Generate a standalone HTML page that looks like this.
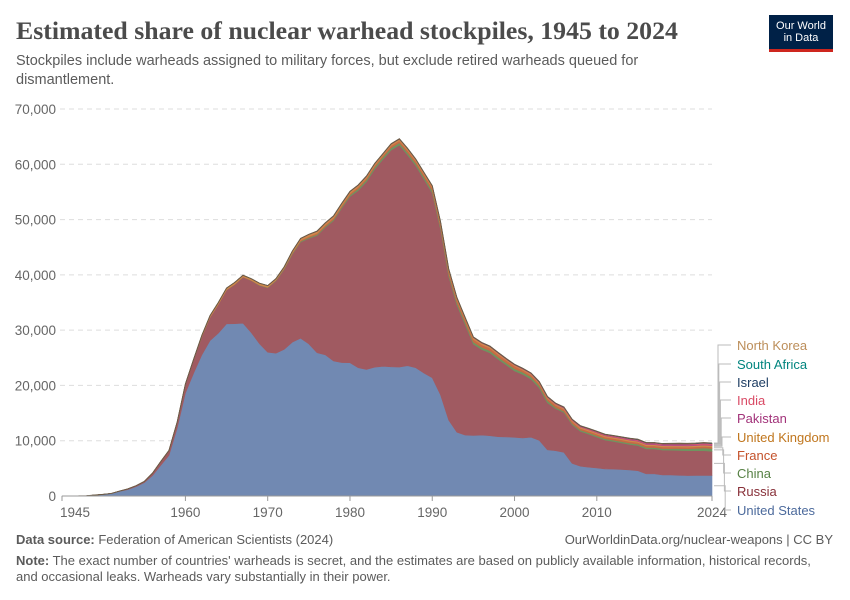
<!DOCTYPE html>
<html><head><meta charset="utf-8"><style>
body{margin:0;background:#fff;font-family:"Liberation Sans",sans-serif;}
#w{position:relative;width:850px;height:600px;overflow:hidden;}
.t{position:absolute;white-space:nowrap;}
</style></head><body>
<div id="w">
<div class="t" style="left:16px;top:16px;font-family:'Liberation Serif',serif;font-size:25.8px;font-weight:bold;color:#4b4b4b;">Estimated share of nuclear warhead stockpiles, 1945 to 2024</div>
<div class="t" style="left:16px;top:52px;font-size:14.5px;color:#5b5b5b;line-height:19px;white-space:normal;width:680px;">Stockpiles include warheads assigned to military forces, but exclude retired warheads queued for dismantlement.</div>
<div style="position:absolute;left:769px;top:15px;width:64px;height:37px;background:#002147;border-bottom:3px solid #ce261e;color:#fff;font-size:11px;line-height:12px;text-align:center;padding-top:5px;box-sizing:border-box;">Our World<br>in Data</div>
<svg id="c" width="850" height="600" style="position:absolute;left:0;top:0"></svg>
<div class="t" style="left:16px;top:532px;font-size:13px;color:#5b5b5b;"><b>Data source:</b> Federation of American Scientists (2024)</div>
<div class="t" style="right:17px;top:532px;font-size:13px;color:#5b5b5b;">OurWorldinData.org/nuclear-weapons | CC BY</div>
<div class="t" style="left:16px;top:553px;font-size:13px;color:#5b5b5b;line-height:16px;white-space:normal;width:810px;"><b>Note:</b> The exact number of countries' warheads is secret, and the estimates are based on publicly available information, historical records, and occasional leaks. Warheads vary substantially in their power.</div>
</div>
<script>
const years=[];for(let y=1945;y<=2024;y++)years.push(y);
const countries=["United States","Russia","China","France","United Kingdom","Pakistan","India","Israel","South Africa","North Korea"];
const usValues=[2,9,13,50,170,299,438,841,1169,1703,2422,3692,5543,7345,12298,18638,22229,25540,28133,29463,31139,31175,31255,29561,27552,26008,25830,26516,27835,28537,27519,25914,25542,24418,24138,24104,23208,22886,23305,23459,23368,23317,23575,23205,22217,21392,18306,13731,11536,11012,10953,11011,10903,10732,10685,10615,10491,10640,10071,8360,8200,7900,5900,5400,5200,5066,4900,4870,4800,4717,4571,4018,4000,3800,3800,3750,3700,3708,3708,3708];
const ruValues=[0,0,0,0,1,5,25,50,120,150,200,426,660,869,1060,1605,2471,3322,4238,5221,6129,7089,8339,9399,10538,11643,13092,14478,15915,17385,19055,21205,23044,25393,27935,30062,32049,33952,35804,37431,39197,40159,38107,36538,35078,33417,30000,26000,23000,20000,16500,15500,15000,14000,13000,12000,11500,10500,9500,8500,7600,7200,7000,6300,6000,5600,5215,5000,4800,4600,4550,4500,4500,4500,4490,4490,4495,4477,4477,4380];
const cnValues=[0,0,0,0,0,0,0,0,0,0,0,0,0,0,0,0,0,0,0,1,5,20,25,35,50,75,100,130,150,170,185,190,200,220,235,280,330,360,380,414,426,423,415,411,430,434,436,435,435,435,400,400,400,400,400,400,400,400,400,400,235,235,235,240,240,240,240,240,250,260,260,260,270,280,290,350,350,410,500,500];
const frValues=[0,0,0,0,0,0,0,0,0,0,0,0,0,0,0,0,0,0,0,4,32,36,36,36,36,36,45,70,116,145,188,212,228,235,235,250,274,274,279,280,360,355,420,410,410,505,540,540,525,510,500,450,450,450,450,470,350,350,350,350,350,350,300,300,300,300,300,300,300,300,300,300,300,300,290,290,290,290,290,290];
const ukValues=[0,0,0,0,0,0,0,0,1,5,10,15,20,22,25,30,50,205,280,310,310,320,270,270,308,280,220,220,275,325,350,350,350,350,350,350,350,335,320,270,300,300,300,300,300,300,300,300,300,250,300,300,260,260,185,185,200,200,200,200,200,200,225,225,225,225,225,225,225,225,215,215,215,215,215,225,225,225,225,225];
const pkValues=[0,0,0,0,0,0,0,0,0,0,0,0,0,0,0,0,0,0,0,0,0,0,0,0,0,0,0,0,0,0,0,0,0,0,0,0,0,0,0,0,0,0,0,0,0,0,0,0,0,0,0,0,0,5,10,15,20,25,30,35,40,50,60,70,80,90,100,110,120,130,140,150,150,160,160,165,165,165,170,170];
const inValues=[0,0,0,0,0,0,0,0,0,0,0,0,0,0,0,0,0,0,0,0,0,0,0,0,0,0,0,0,0,1,1,1,1,1,1,1,1,1,1,1,1,1,1,5,8,10,12,15,18,20,25,30,35,40,45,50,55,60,65,70,75,80,85,90,95,100,100,110,120,120,130,130,130,130,150,156,156,164,172,172];
const ilValues=[0,0,0,0,0,0,0,0,0,0,0,0,0,0,0,0,0,0,0,0,0,0,2,6,10,15,20,23,25,27,30,35,40,42,44,46,48,50,52,54,56,58,60,62,64,66,68,70,72,74,76,78,80,80,80,80,80,80,80,80,80,80,80,80,80,80,80,80,80,80,80,80,80,80,90,90,90,90,90,90];
const zaValues=[0,0,0,0,0,0,0,0,0,0,0,0,0,0,0,0,0,0,0,0,0,0,0,0,0,0,0,0,0,0,0,0,0,0,1,1,1,1,2,3,4,4,5,6,6,6,0,0,0,0,0,0,0,0,0,0,0,0,0,0,0,0,0,0,0,0,0,0,0,0,0,0,0,0,0,0,0,0,0,0];
const kpValues=[0,0,0,0,0,0,0,0,0,0,0,0,0,0,0,0,0,0,0,0,0,0,0,0,0,0,0,0,0,0,0,0,0,0,0,0,0,0,0,0,0,0,0,0,0,0,0,0,0,0,0,0,0,0,0,0,0,0,0,0,0,2,2,4,6,8,10,10,10,10,10,10,15,20,30,30,40,40,30,50];
const yTicks=[0,10000,20000,30000,40000,50000,60000,70000];
const xTicks=[1945,1960,1970,1980,1990,2000,2010,2024];
const series=[usValues,ruValues,cnValues,frValues,ukValues,pkValues,inValues,ilValues,zaValues,kpValues];
const fills=["#7189b2","#a05a61","#6f9460","#c76a44","#d0884a","#b14e86","#e0566b","#3c4e70","#2a948e","#c39a6a"];
const txtCol=["#4c6a9c","#883039","#578145","#c4522b","#c0761e","#a2337a","#d94a65","#1d3d63","#00847e","#bc8e5a"];
const X0=62,X1=712,Y0=496,Y1=109;
const xs=y=>X0+(y-1945)/(2024-1945)*(X1-X0);
const ys=v=>Y0-v/70000*(Y0-Y1);
const svg=document.getElementById('c');const NS="http://www.w3.org/2000/svg";
function mk(t,a){const e=document.createElementNS(NS,t);for(const k in a)e.setAttribute(k,a[k]);svg.appendChild(e);return e;}
yTicks.forEach(v=>{
 if(v>0){const g=mk('line',{x1:60,x2:X1,y1:ys(v),y2:ys(v),stroke:'#dddddd','stroke-dasharray':'5,4'});
 
 }
 const t=mk('text',{x:56,y:ys(v)+5,'text-anchor':'end','font-size':13.5,fill:'#666','font-family':'Liberation Sans,sans-serif'});t.textContent=v.toLocaleString('en-US');
 
 
});
let base=years.map(()=>0);
series.forEach((s,i)=>{
 const top=base.map((b,j)=>b+s[j]);
 let d='M'+years.map((y,j)=>xs(y)+','+ys(top[j])).join('L');
 for(let j=years.length-1;j>=0;j--)d+='L'+xs(years[j])+','+ys(base[j]);
 const p=mk('path',{d:d+'Z',fill:fills[i],stroke:fills[i],'stroke-width':0.6});
 
 
 base=top;
});
const outline=mk('path',{d:'M'+years.map((y,j)=>xs(y)+','+ys(base[j])).join('L'),fill:'none',stroke:'#6b5a45','stroke-width':1});


const ax=mk('line',{x1:X0,x2:X1,y1:Y0,y2:Y0,stroke:'#999'});


xTicks.forEach((y,k)=>{
 const tk=mk('line',{x1:xs(y),x2:xs(y),y1:Y0,y2:Y0+5,stroke:'#999'});
 
 
 const t=mk('text',{x:xs(y)+(k==0?-2:0),y:Y0+21,'text-anchor':k==0?'start':'middle','font-size':13.5,fill:'#666','font-family':'Liberation Sans,sans-serif'});t.textContent=y;
 
 
});
const ly=[515,496,478,460,442,423,405,387,369,350];
let cum=0;
series.forEach((s,i)=>{
 const mid=ys(cum+s[79]/2);cum+=s[79];
 const bx=716+ (9-i)*0.8;
 const ln=mk('path',{d:`M${X1+2},${mid}H${bx+2}V${ly[i]-5}H${731}`,fill:'none',stroke:'#bbb','stroke-width':1});
 
 
 const t=mk('text',{x:737,y:ly[i],'font-size':13,fill:txtCol[i],'font-family':'Liberation Sans,sans-serif'});t.textContent=countries[i];
 
 
});
</script>
</body></html>
